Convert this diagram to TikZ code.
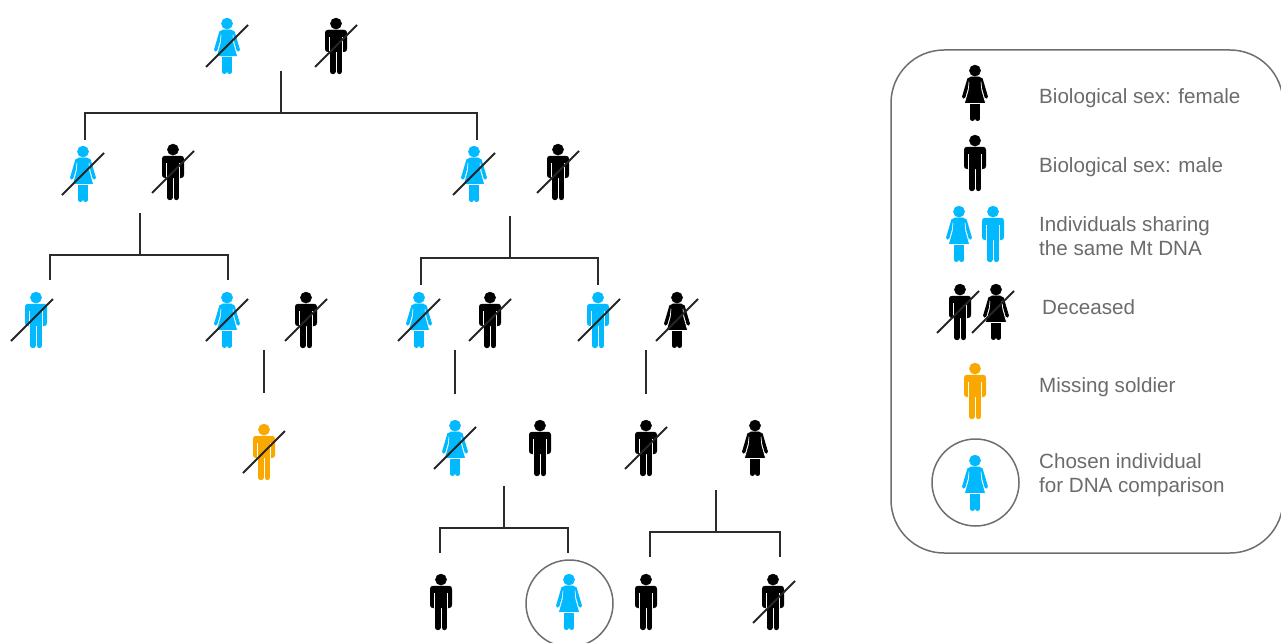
\documentclass[tikz,border=0pt]{standalone}
\usepackage{fontspec}
\setmainfont{Liberation Sans}
\definecolor{mtblue}{HTML}{00B9FF}
\definecolor{soldier}{HTML}{F9A800}
\definecolor{linegrey}{HTML}{2B2B2B}
\definecolor{framegrey}{HTML}{6E6E6E}
\definecolor{textgrey}{HTML}{6B6B6B}
\tikzset{
  femalefig/.pic={
    \fill[pic actions] (0,5.6) circle (5.6);
    \draw[pic actions,fill=none,line width=3.4pt,line cap=round] (-6,14) -- (-11.3,32);
    \draw[pic actions,fill=none,line width=3.4pt,line cap=round] (6,14) -- (11.3,32);
    \draw[pic actions,fill=none,line width=4.6pt,line cap=round] (-2.7,36) -- (-2.7,53.7);
    \draw[pic actions,fill=none,line width=4.6pt,line cap=round] (2.7,36) -- (2.7,53.7);
    \filldraw[pic actions,draw=white,line width=.7pt] (-5.6,13) -- (5.6,13) -- (6.8,25) -- (10.6,38.4) -- (-10.6,38.4) -- (-6.8,25) -- cycle;
    \fill[pic actions] (-4,11.8) -- (4,11.8) -- (7,14) -- (6,17) -- (-6,17) -- (-7,14) -- cycle;
  },
  malefig/.pic={
    \fill[pic actions] (0,5.6) circle (5.6);
    \fill[pic actions,rounded corners=2.8pt] (-10.8,33.8) -- (-10.8,12) -- (10.8,12) -- (10.8,33.8) -- cycle;
    \fill[pic actions] (-6.3,20) rectangle (6.3,29);
    \draw[pic actions,fill=none,line width=5.6pt,line cap=round] (-3.3,27) -- (-3.3,53.4);
    \draw[pic actions,fill=none,line width=5.6pt,line cap=round] (3.3,27) -- (3.3,53.4);
    \fill[white] (-7.2,19) rectangle (-6.4,34);
    \fill[white] (6.4,19) rectangle (7.2,34);
  },
  slashline/.style={draw=black!85,line width=1.8pt},
  stem/.style={draw=linegrey,line width=1.9pt},
  frameline/.style={draw=framegrey,line width=1.5pt},
  legendtext/.style={anchor=west,inner sep=0pt,text=textgrey,font=\fontsize{20.6}{24.6}\selectfont,align=left},
}
% kind, colour, x, top y
\newcommand{\person}[4]{\pic[fill=#2,draw=#2] at (#3,#4) {#1fig};}
% optional: slash shift in x
\newcommand{\deadperson}[5][0]{\pic[fill=#3,draw=#3] at (#4,#5) {#2fig};
  \draw[slashline] (#4+#1-21,#5+49) -- (#4+#1+21,#5+7);}
% family connector: name, stem x, stem top, bar y, left x, right x, drop end y
\newcommand{\family}[7]{
  \coordinate (#1s) at (#2,#3);
  \coordinate (#1l) at (#5,#7);
  \coordinate (#1r) at (#6,#7);
  \coordinate (#1b) at (#2,#4);
  \draw[stem] (#1s) -- (#1b);
  \draw[stem] (#1l) -- (#1l |- #1b) -- (#1r |- #1b) -- (#1r);
}
\newcommand{\single}[4]{
  \coordinate (#1a) at (#2,#3);
  \coordinate (#1b) at (#2,#4);
  \draw[stem] (#1a) -- (#1b);
}
\begin{document}
\begin{tikzpicture}[x=1pt,y=-1pt]
\useasboundingbox (0,0) rectangle (1281,642);
\begin{scope}
\clip (0,0) rectangle (1281,642);
% generation 1
\deadperson{female}{mtblue}{227}{18}
\deadperson{male}{black}{336}{18}
\family{fa}{281}{71}{113}{85}{477}{140}
% generation 2
\deadperson{female}{mtblue}{83}{146}
\deadperson{male}{black}{173}{144}
\deadperson{female}{mtblue}{474}{146}
\deadperson{male}{black}{558}{144}
\family{fb}{140}{213}{255}{50}{228}{280}
\family{fc}{510}{216}{258}{421}{598}{285}
% generation 3
\deadperson[-4]{male}{mtblue}{36}{292}
\deadperson{female}{mtblue}{227}{292}
\deadperson{male}{black}{306}{292}
\deadperson{female}{mtblue}{419}{292}
\deadperson{male}{black}{490}{292}
\deadperson[1]{male}{mtblue}{598}{292}
\deadperson{female}{black}{677}{292}
\single{sa}{264}{350}{393}
\single{sb}{455}{350}{394}
\single{sc}{646}{350}{394}
% generation 4
\deadperson{male}{soldier}{264}{424}
\deadperson{female}{mtblue}{455}{420}
\person{male}{black}{540}{420}
\deadperson{male}{black}{646}{420}
\person{female}{black}{755}{420}
\family{fd}{504}{486}{528}{440}{568}{553}
\family{fe}{716}{490}{532}{650}{780}{557}
% generation 5
\person{male}{black}{441}{574}
\node[circle,frameline,minimum size=87pt,inner sep=0pt] (chosen) at (569.5,603.5) {};
\person{female}{mtblue}{569}{574}
\person{male}{black}{646}{574}
\deadperson[1]{male}{black}{773}{574}
% legend
\draw[frameline,rounded corners=53pt] (891,50) rectangle (1283,553);
\person{female}{black}{975}{65}
\person{male}{black}{975}{135}
\person{female}{mtblue}{959}{206}
\person{male}{mtblue}{993}{206}
\deadperson[-2]{male}{black}{960}{284}
\deadperson[-3]{female}{black}{996}{284}
\person{male}{soldier}{975}{363}
\node[circle,frameline,minimum size=87pt,inner sep=0pt] (legendcircle) at (975.5,482.5) {};
\person{female}{mtblue}{975}{455}
\node[legendtext] (tfemale) at (1039,98) {Biological sex: female};
\node[legendtext] (tmale) at (1039,167) {Biological sex: male};
\node[legendtext] (tshare) at (1039,236) {Individuals sharing\\the same Mt DNA};
\node[legendtext] (tdead) at (1042,307) {Deceased};
\node[legendtext] (tmiss) at (1039,387) {Missing soldier};
\node[legendtext] (tchosen) at (1039,475) {Chosen individual\\for DNA comparison};
\end{scope}
\end{tikzpicture}
\end{document}
